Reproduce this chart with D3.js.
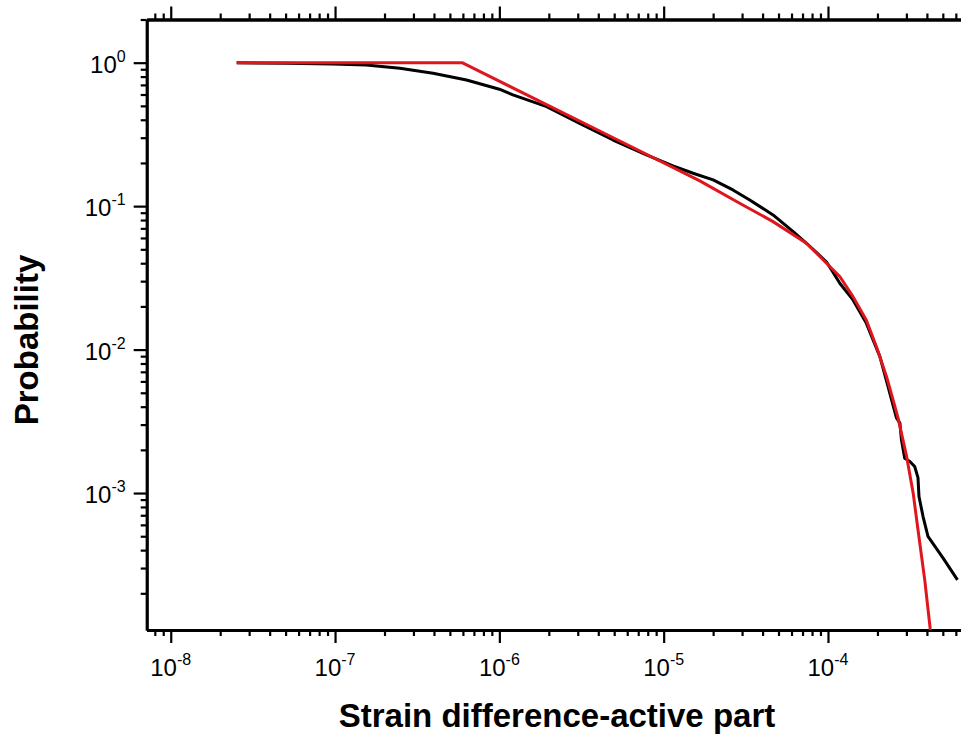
<!DOCTYPE html>
<html>
<head>
<meta charset="utf-8">
<script src="https://cdn.jsdelivr.net/npm/d3@7"></script>
<style>
    body { margin: 0; background: #fff; }
    svg { display: block; }
    text { font-family: "Liberation Sans", Arial, sans-serif; fill: #000; }
</style>
</head>
<body>
<svg id="chart" width="961" height="737"></svg>
<script>
// measured distribution (black)
var measuredX = [2.52e-8, 5.06e-8, 9.68e-8, 1.55e-7, 2.48e-7, 3.95e-7, 6.31e-7, 1.00e-6, 1.21e-6,
    1.94e-6, 3.08e-6, 4.92e-6, 7.85e-6, 1.14e-5, 1.51e-5, 2.00e-5, 2.64e-5, 3.34e-5, 4.63e-5,
    6.14e-5, 7.40e-5, 8.43e-5, 9.80e-5, 1.07e-4, 1.18e-4, 1.42e-4, 1.71e-4, 2.07e-4, 2.32e-4,
    2.61e-4, 2.74e-4, 2.80e-4, 2.93e-4, 3.15e-4, 3.37e-4, 3.53e-4, 3.58e-4, 3.79e-4, 4.06e-4,
    5.02e-4, 6.14e-4];
var measuredY = [0.999, 0.990, 0.979, 0.964, 0.914, 0.844, 0.758, 0.653, 0.596,
    0.494, 0.378, 0.289, 0.2275, 0.1906, 0.1696, 0.1523, 0.1297, 0.1105, 0.0868,
    0.0664, 0.0551, 0.0480, 0.0408, 0.0348, 0.0290, 0.0222, 0.0153, 0.00894, 0.00552,
    0.00334, 0.00307, 0.00235, 0.00175, 0.00166, 0.00153, 0.00128, 0.000946, 0.000686, 0.000498,
    0.000352, 0.000248];

// fitted curve (red)
var fitX = [2.52e-8, 5.93e-7, 4.08e-6, 1.66e-5, 2.90e-5, 4.63e-5, 7.40e-5, 9.80e-5, 1.18e-4,
    1.42e-4, 1.71e-4, 1.97e-4, 2.27e-4, 2.49e-4, 2.67e-4, 3.01e-4, 3.30e-4, 3.53e-4, 3.88e-4, 4.22e-4];
var fitY = [1, 1, 0.334, 0.150, 0.1047, 0.078, 0.0551, 0.0400, 0.0323,
    0.0234, 0.0161, 0.0105, 0.00649, 0.00446, 0.00333, 0.00180, 0.000998, 0.000555, 0.000248, 0.000105];

var xDomain = [7.14e-9, 6.45e-4];
var yDomain = [1.11e-4, 2.0];
var xTitle = "Strain difference-active part";
var yTitle = "Probability";

var svg = d3.select("#chart");
var plotLeft = 146.7, plotRight = 961, plotTop = 19.5, plotBottom = 630;

var x = d3.scaleLog().domain(xDomain).range([plotLeft, plotRight]);
var y = d3.scaleLog().domain(yDomain).range([plotBottom, plotTop]);

function majorTicks(dom) {
    var out = [];
    for (var e = Math.floor(Math.log10(dom[0])); e <= Math.ceil(Math.log10(dom[1])); e++) {
        var v = Math.pow(10, e);
        if (v >= dom[0] && v <= dom[1]) out.push(v);
    }
    return out;
}

function minorTicks(dom) {
    var out = [];
    for (var e = Math.floor(Math.log10(dom[0])); e <= Math.ceil(Math.log10(dom[1])); e++) {
        for (var k = 2; k <= 9; k++) {
            var v = k * Math.pow(10, e);
            if (v >= dom[0] * 0.999 && v <= dom[1]) out.push(v);
        }
    }
    return out;
}

function styleAxis(g) {
    g.select(".domain").attr("stroke", "#000").attr("stroke-width", 2.8);
    g.selectAll(".tick line").attr("stroke", "#000").attr("stroke-width", 2.2);
    g.selectAll(".tick text").remove();
}

// axes: minor + major ticks drawn as separate passes
function drawAxis(axisFn, scale, dom, transform) {
    svg.append("g")
        .attr("transform", transform)
        .call(axisFn(scale).tickValues(minorTicks(dom)).tickSize(6).tickSizeOuter(0).tickFormat(""))
        .call(styleAxis);
    svg.append("g")
        .attr("transform", transform)
        .call(axisFn(scale).tickValues(majorTicks(dom)).tickSize(13).tickSizeOuter(0).tickFormat(""))
        .call(styleAxis);
}

drawAxis(d3.axisBottom, x, xDomain, "translate(0," + plotBottom + ")");
drawAxis(d3.axisTop, x, xDomain, "translate(0," + plotTop + ")");
drawAxis(d3.axisLeft, y, yDomain, "translate(" + plotLeft + ",0)");

// tick labels with superscript exponent
majorTicks(xDomain).forEach(function(v) {
    var t = svg.append("text")
        .attr("x", x(v))
        .attr("y", plotBottom + 46)
        .attr("text-anchor", "middle")
        .attr("font-size", 24);
    t.append("tspan").text("10");
    t.append("tspan")
        .attr("dy", -11)
        .attr("font-size", 16)
        .text(Math.round(Math.log10(v)));
});

majorTicks(yDomain).forEach(function(v) {
    var t = svg.append("text")
        .attr("x", plotLeft - 21)
        .attr("y", y(v) + 10)
        .attr("text-anchor", "end")
        .attr("font-size", 24);
    t.append("tspan").text("10");
    t.append("tspan")
        .attr("dy", -11)
        .attr("font-size", 16)
        .text(Math.round(Math.log10(v)));
});

// titles
svg.append("text")
    .attr("x", 557)
    .attr("y", 727)
    .attr("text-anchor", "middle")
    .attr("font-size", 33)
    .attr("font-weight", "bold")
    .text(xTitle);

svg.append("text")
    .attr("transform", "translate(38,340) rotate(-90)")
    .attr("text-anchor", "middle")
    .attr("font-size", 33)
    .attr("font-weight", "bold")
    .text(yTitle);

// curves
svg.append("clipPath")
    .attr("id", "plot-clip")
    .append("rect")
    .attr("x", plotLeft)
    .attr("y", plotTop)
    .attr("width", plotRight - plotLeft)
    .attr("height", plotBottom - plotTop);

var line = d3.line()
    .x(d => x(d[0]))
    .y(d => y(d[1]));

var plot = svg.append("g").attr("clip-path", "url(#plot-clip)");

plot.append("path")
    .datum(d3.zip(measuredX, measuredY))
    .attr("d", line)
    .attr("fill", "none")
    .attr("stroke", "#000")
    .attr("stroke-width", 3)
    .attr("stroke-linejoin", "round");

plot.append("path")
    .datum(d3.zip(fitX, fitY))
    .attr("d", line)
    .attr("fill", "none")
    .attr("stroke", "#e0161e")
    .attr("stroke-width", 3)
    .attr("stroke-linejoin", "round");
</script>
</body>
</html>
